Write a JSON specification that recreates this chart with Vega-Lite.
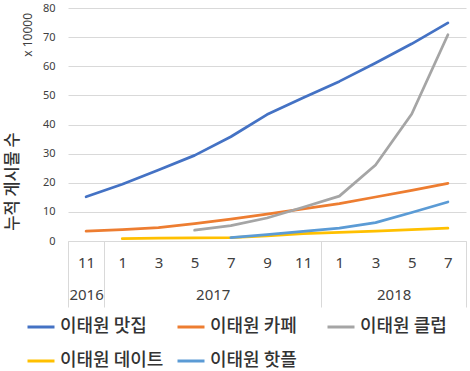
{
  "$schema": "https://vega.github.io/schema/vega-lite/v6.json",
  "width": 398,
  "height": 233,
  "autosize": "none",
  "padding": {"left": 68, "top": 8, "right": 4, "bottom": 130},
  "background": "white",
  "config": {"view": {"stroke": null}},
  "title": {"text": "x 10000", "orient": "left", "anchor": "end", "frame": "group", "fontSize": 12, "fontWeight": "normal", "font": "Noto Sans", "color": "#404040", "offset": -31, "dx": -5},
  "data": {"values": [
    {"s": "이태원 맛집", "i": 0, "v": 15.2}, {"s": "이태원 맛집", "i": 1, "v": 19.5}, {"s": "이태원 맛집", "i": 2, "v": 24.4}, {"s": "이태원 맛집", "i": 3, "v": 29.4}, {"s": "이태원 맛집", "i": 4, "v": 35.8}, {"s": "이태원 맛집", "i": 5, "v": 43.4}, {"s": "이태원 맛집", "i": 6, "v": 49.2}, {"s": "이태원 맛집", "i": 7, "v": 54.8}, {"s": "이태원 맛집", "i": 8, "v": 61.1}, {"s": "이태원 맛집", "i": 9, "v": 67.7}, {"s": "이태원 맛집", "i": 10, "v": 74.9},
    {"s": "이태원 카페", "i": 0, "v": 3.4}, {"s": "이태원 카페", "i": 1, "v": 3.9}, {"s": "이태원 카페", "i": 2, "v": 4.6}, {"s": "이태원 카페", "i": 3, "v": 6.0}, {"s": "이태원 카페", "i": 4, "v": 7.5}, {"s": "이태원 카페", "i": 5, "v": 9.2}, {"s": "이태원 카페", "i": 6, "v": 11.0}, {"s": "이태원 카페", "i": 7, "v": 12.8}, {"s": "이태원 카페", "i": 8, "v": 15.1}, {"s": "이태원 카페", "i": 9, "v": 17.4}, {"s": "이태원 카페", "i": 10, "v": 19.8},
    {"s": "이태원 클럽", "i": 3, "v": 3.7}, {"s": "이태원 클럽", "i": 4, "v": 5.3}, {"s": "이태원 클럽", "i": 5, "v": 7.9}, {"s": "이태원 클럽", "i": 6, "v": 11.6}, {"s": "이태원 클럽", "i": 7, "v": 15.4}, {"s": "이태원 클럽", "i": 8, "v": 26.1}, {"s": "이태원 클럽", "i": 9, "v": 43.6}, {"s": "이태원 클럽", "i": 10, "v": 70.8},
    {"s": "이태원 데이트", "i": 1, "v": 0.8}, {"s": "이태원 데이트", "i": 2, "v": 1.0}, {"s": "이태원 데이트", "i": 3, "v": 1.1}, {"s": "이태원 데이트", "i": 4, "v": 1.2}, {"s": "이태원 데이트", "i": 5, "v": 1.8}, {"s": "이태원 데이트", "i": 6, "v": 2.5}, {"s": "이태원 데이트", "i": 7, "v": 3.0}, {"s": "이태원 데이트", "i": 8, "v": 3.4}, {"s": "이태원 데이트", "i": 9, "v": 3.9}, {"s": "이태원 데이트", "i": 10, "v": 4.4},
    {"s": "이태원 핫플", "i": 4, "v": 1.2}, {"s": "이태원 핫플", "i": 5, "v": 2.2}, {"s": "이태원 핫플", "i": 6, "v": 3.3}, {"s": "이태원 핫플", "i": 7, "v": 4.4}, {"s": "이태원 핫플", "i": 8, "v": 6.3}, {"s": "이태원 핫플", "i": 9, "v": 9.8}, {"s": "이태원 핫플", "i": 10, "v": 13.4}
  ]},
  "mark": {"type": "line", "strokeWidth": 2.75, "strokeCap": "round", "strokeJoin": "round"},
  "encoding": {
    "x": {
      "field": "i", "type": "quantitative",
      "scale": {"domain": [-0.5, 10.5], "nice": false, "zero": false},
      "axis": {
        "title": null, "grid": false,
        "values": [-0.5, 0, 0.5, 1, 2, 3, 3.5, 4, 5, 6, 6.5, 7, 8, 8.5, 9, 10, 10.5],
        "domainColor": "#D9D9D9", "domainWidth": 1,
        "tickColor": "#D9D9D9", "tickWidth": 1, "tickSize": 66,
        "tickOpacity": {"condition": {"test": "indexof([-0.5, 0.5, 6.5, 10.5], datum.value) >= 0", "value": 1}, "value": 0},
        "labelExpr": "datum.value == 3.5 ? '2017' : datum.value == 8.5 ? '2018' : datum.value == 0 ? ['11', '2016'] : (datum.value % 1 == 0 ? ['11','1','3','5','7','9','11','1','3','5','7'][datum.value] : '')",
        "labelPadding": {"condition": {"test": "datum.value == 3.5 || datum.value == 8.5", "value": -20}, "value": -52},
        "labelBaseline": "top", "labelLineHeight": 32,
        "labelFont": "Noto Sans", "labelFontSize": 15, "labelColor": "#404040",
        "labelOverlap": false, "labelFlush": false, "labelBound": false
      }
    },
    "y": {
      "field": "v", "type": "quantitative",
      "scale": {"domain": [0, 80], "nice": false},
      "axis": {
        "values": [0, 10, 20, 30, 40, 50, 60, 70, 80],
        "grid": true, "gridColor": "#D9D9D9", "gridWidth": 1,
        "domain": false, "ticks": false, "tickSize": 0, "labelPadding": 13,
        "labelFont": "Noto Sans", "labelFontSize": 11, "labelColor": "#404040",
        "title": "누적 게시물 수", "titleFont": "Noto Sans CJK KR", "titleFontSize": 16.5, "titleFontWeight": 500, "titleColor": "#333333",
        "titleX": -56, "titleY": 173, "titleAlign": "center", "titleBaseline": "middle", "titleAngle": -90
      }
    },
    "color": {
      "field": "s", "type": "nominal",
      "scale": {"domain": ["이태원 맛집", "이태원 카페", "이태원 클럽", "이태원 데이트", "이태원 핫플"], "range": ["#4472C4", "#ED7D31", "#A5A5A5", "#FFC000", "#5B9BD5"]},
      "legend": {
        "title": null, "orient": "none", "legendX": -42, "legendY": 304,
        "direction": "horizontal", "columns": 3, "gridAlign": "all",
        "columnPadding": 7, "rowPadding": 10, "padding": 0,
        "symbolType": "stroke", "symbolSize": 729, "symbolStrokeWidth": 3,
        "labelFont": "Noto Sans CJK KR", "labelFontSize": 18, "labelFontWeight": 500, "labelColor": "#333333",
        "labelOffset": 4, "labelLimit": 300
      }
    }
  }
}
